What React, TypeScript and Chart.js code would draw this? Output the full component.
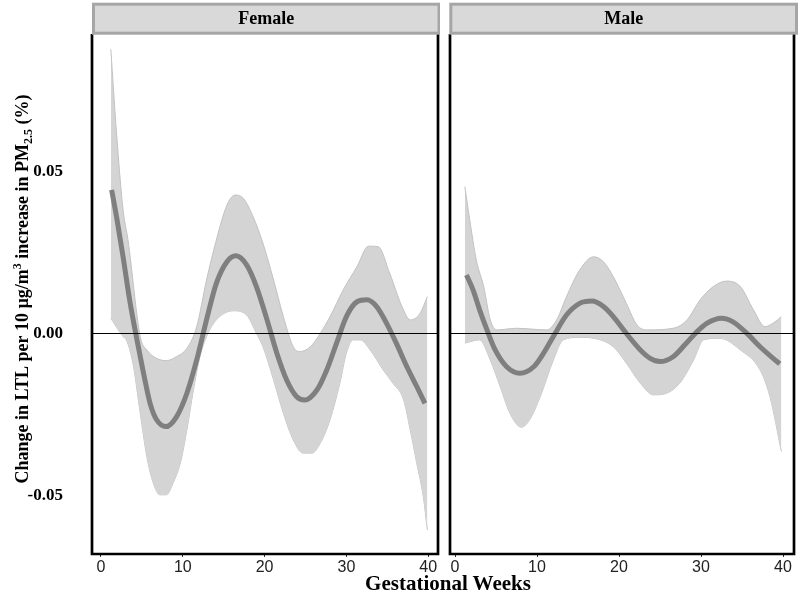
import React, { useEffect, useRef } from "react";
import { Chart, registerables } from "chart.js";
Chart.register(...registerables);

// ---- data ----
const panelTitles = ["Female", "Male"];
const xTickValues = [0, 10, 20, 30, 40];
const yTickValues = [-0.05, 0, 0.05];
const xAxisTitle = "Gestational Weeks";

const femaleFitWeeks = [1.3, 1.9, 2.7, 3.5, 4.4, 5.2, 6.0, 6.8, 7.95, 9.25, 10.5, 11.7, 12.9, 14.1, 15.4, 16.5, 17.8, 19.0, 20.3, 21.5, 22.7, 23.9, 24.9, 26.4, 27.6, 28.8, 30.0, 31.3, 32.5, 33.7, 34.9, 36.1, 37.4, 38.6, 39.6];
const femaleFit = [0.0444, 0.0361, 0.0237, 0.0104, -0.002, -0.0123, -0.0216, -0.0267, -0.0288, -0.0257, -0.0185, -0.0082, 0.0042, 0.0155, 0.0222, 0.024, 0.0212, 0.0145, 0.0042, -0.0061, -0.0144, -0.0195, -0.0206, -0.0175, -0.0113, -0.003, 0.0052, 0.0098, 0.0104, 0.0083, 0.0032, -0.003, -0.0103, -0.0164, -0.0216];

const femaleUpperWeeks = [1.2, 1.9, 2.7, 3.3, 4.8, 5.6, 6.8, 8.0, 9.2, 10.5, 11.7, 12.9, 14.1, 15.4, 16.4, 17.4, 18.6, 19.8, 21.1, 22.3, 23.5, 24.3, 25.6, 26.8, 28.0, 29.6, 31.3, 32.7, 33.9, 35.3, 36.8, 37.8, 39.0, 39.9];
const femaleUpper = [0.0879, 0.062, 0.0382, 0.0289, -0.001, -0.0051, -0.0077, -0.0084, -0.0072, -0.0046, 0.0021, 0.0165, 0.0289, 0.0397, 0.0428, 0.0418, 0.0361, 0.0279, 0.0165, 0.0052, -0.0041, -0.0056, -0.0041, 0, 0.0052, 0.0134, 0.0207, 0.027, 0.0268, 0.0186, 0.0083, 0.0042, 0.0062, 0.0114];

const femaleLowerWeeks = [1.2, 2.7, 3.1, 3.9, 4.8, 5.6, 6.4, 7.2, 8.0, 8.8, 9.7, 10.5, 11.3, 12.1, 12.9, 14.1, 16.2, 17.8, 19.0, 19.8, 21.1, 22.3, 23.5, 24.7, 25.8, 26.8, 28.0, 29.2, 30.0, 30.8, 31.7, 32.9, 34.5, 35.7, 37.0, 37.8, 38.6, 39.4, 39.9];
const femaleLower = [0.0047, -0.001, -0.002, -0.0092, -0.0247, -0.0381, -0.0463, -0.0499, -0.0499, -0.0463, -0.0401, -0.0298, -0.0175, -0.0072, -0.001, 0.0042, 0.007, 0.0057, 0, -0.0041, -0.0144, -0.0247, -0.0329, -0.037, -0.037, -0.034, -0.0267, -0.0154, -0.0061, -0.002, -0.002, -0.0051, -0.0113, -0.0154, -0.0206, -0.0298, -0.0401, -0.0505, -0.0608];

const maleFitWeeks = [1.4, 2.2, 3.0, 3.9, 4.9, 6.3, 7.9, 9.6, 10.8, 12.2, 13.6, 15.2, 16.7, 18.1, 19.3, 20.9, 22.6, 23.8, 25.0, 26.6, 28.0, 29.3, 30.7, 32.5, 33.9, 35.6, 37.2, 38.8, 39.6];
const maleFit = [0.0181, 0.0135, 0.0073, 0.0011, -0.0051, -0.0103, -0.0123, -0.0103, -0.0061, 0, 0.0057, 0.0093, 0.01, 0.0083, 0.0052, 0, -0.0051, -0.0077, -0.0087, -0.0072, -0.0036, 0, 0.0031, 0.0047, 0.0036, 0, -0.0041, -0.0077, -0.0094];

const maleUpperWeeks = [1.2, 1.8, 2.6, 3.5, 4.3, 5.1, 7.5, 11.2, 12.4, 13.6, 15.2, 16.9, 18.1, 19.3, 20.9, 22.2, 23.4, 26.6, 28.3, 29.9, 31.5, 33.1, 34.8, 36.4, 37.8, 38.8, 39.8];
const maleUpper = [0.0454, 0.0351, 0.0227, 0.0145, 0.0042, 0.0011, 0.0016, 0.0011, 0.0042, 0.0114, 0.0196, 0.0237, 0.0222, 0.0176, 0.0093, 0.0026, 0.0011, 0.0016, 0.0042, 0.0104, 0.0145, 0.0162, 0.0145, 0.0073, 0.0021, 0.0032, 0.0052];

const maleLowerWeeks = [1.2, 3.0, 4.3, 5.5, 6.7, 8.1, 9.1, 10.4, 12.0, 13.2, 15.2, 16.9, 19.3, 20.9, 22.6, 24.2, 25.8, 27.4, 29.1, 30.3, 32.3, 34.8, 37.2, 38.4, 39.8];
const maleLower = [-0.003, -0.002, -0.0082, -0.0164, -0.0247, -0.029, -0.0267, -0.0195, -0.0082, -0.002, -0.0012, -0.0015, -0.0041, -0.0092, -0.0154, -0.019, -0.0185, -0.0154, -0.0082, -0.002, -0.0015, -0.0051, -0.0113, -0.0195, -0.0365];

// ---- styling ----
const SERIF = '"Liberation Serif", "Times New Roman", serif';
const SANS = '"Liberation Sans", Arial, sans-serif';
const Y_MIN = -0.0682;
const Y_MAX = 0.0926;

const pts = (xs: number[], ys: number[]) => xs.map((x, i) => ({ x, y: ys[i] }));

function panelPlugin(opts: any) {
  return {
    id: "panelDecor" + opts.title,
    afterDatasetsDraw(chart: any) {
      const { ctx, chartArea, scales } = chart;
      const y0 = Math.round(scales.y.getPixelForValue(0)) + 0.5;
      ctx.save();
      ctx.strokeStyle = "#000";
      ctx.lineWidth = 1;
      ctx.beginPath();
      ctx.moveTo(chartArea.left, y0);
      ctx.lineTo(chartArea.right, y0);
      ctx.stroke();
      ctx.restore();
    },
    afterDraw(chart: any) {
      const { ctx, chartArea } = chart;
      ctx.save();
      // panel border (left, bottom, right)
      ctx.strokeStyle = "#000";
      ctx.lineWidth = 2.7;
      ctx.beginPath();
      ctx.moveTo(chartArea.left, chartArea.top);
      ctx.lineTo(chartArea.left, chartArea.bottom);
      ctx.lineTo(chartArea.right, chartArea.bottom);
      ctx.lineTo(chartArea.right, chartArea.top);
      ctx.stroke();
      // strip
      const sx1 = opts.stripX1, sx2 = opts.stripX2, sy1 = 4.2, sy2 = 33.2;
      ctx.fillStyle = "#d9d9d9";
      ctx.fillRect(sx1, sy1, sx2 - sx1, sy2 - sy1);
      ctx.strokeStyle = "#a6a6a6";
      ctx.lineWidth = 3;
      ctx.strokeRect(sx1, sy1, sx2 - sx1, sy2 - sy1);
      ctx.fillStyle = "#000";
      ctx.font = `bold 18px ${SERIF}`;
      ctx.textAlign = "center";
      ctx.textBaseline = "middle";
      ctx.fillText(opts.title, (sx1 + sx2) / 2, (sy1 + sy2) / 2 + 1);

      if (opts.yTitle) {
        const big = `bold 18px ${SERIF}`;
        const small = `bold 12px ${SERIF}`;
        const parts = [
          { t: "Change in LTL per 10 \u00B5g/m", f: big, dy: 0 },
          { t: "3", f: small, dy: -7 },
          { t: " increase in PM", f: big, dy: 0 },
          { t: "2.5", f: small, dy: 4 },
          { t: " (%)", f: big, dy: 0 },
        ];
        let total = 0;
        const widths = parts.map((p) => {
          ctx.font = p.f;
          const w = ctx.measureText(p.t).width;
          total += w;
          return w;
        });
        ctx.translate(27.5, 289);
        ctx.rotate(-Math.PI / 2);
        ctx.textAlign = "left";
        ctx.textBaseline = "alphabetic";
        let x = -total / 2;
        parts.forEach((p, i) => {
          ctx.font = p.f;
          ctx.fillText(p.t, x, p.dy);
          x += widths[i];
        });
      }
      ctx.restore();
    },
  };
}

function makeConfig(opts: any) {
  const lineBase = { pointRadius: 0, cubicInterpolationMode: "monotone" as const };
  return {
    type: "line" as const,
    data: {
      datasets: [
        { ...lineBase, data: pts(opts.fitX, opts.fitY), borderColor: "#7f7f7f", borderWidth: 5, fill: false },
        { ...lineBase, data: pts(opts.upX, opts.upY), borderColor: "#c2c2c2", borderWidth: 1, backgroundColor: "#d4d4d4", fill: "+1" },
        { ...lineBase, data: pts(opts.loX, opts.loY), borderColor: "#c2c2c2", borderWidth: 1, fill: false },
      ],
    },
    options: {
      animation: false as const,
      responsive: false,
      events: [],
      layout: { padding: { top: 34, right: opts.padRight, left: 0, bottom: 0 } },
      plugins: { legend: { display: false }, tooltip: { enabled: false } },
      scales: {
        x: {
          type: "linear" as const,
          min: opts.xMin,
          max: opts.xMax,
          afterBuildTicks: (s: any) => {
            s.ticks = xTickValues.map((v) => ({ value: v }));
          },
          afterFit: (s: any) => {
            s.height = 46;
          },
          grid: { drawOnChartArea: false, tickLength: 3, color: "#333", tickColor: "#333" },
          border: { display: false },
          ticks: { font: { family: SANS, size: 16 }, color: "#222", padding: 1, maxRotation: 0, autoSkip: false },
        },
        y: {
          type: "linear" as const,
          min: Y_MIN,
          max: Y_MAX,
          afterBuildTicks: (s: any) => {
            s.ticks = yTickValues.map((v) => ({ value: v }));
          },
          afterFit: (s: any) => {
            s.width = opts.yWidth;
          },
          grid: { display: false },
          border: { display: false },
          ticks: {
            display: opts.showY,
            callback: (v: any) => Number(v).toFixed(2),
            font: { family: SERIF, size: 17, weight: "bold" as const },
            color: "#000",
            padding: 21,
          },
        },
      },
    },
    plugins: [panelPlugin(opts)],
  };
}

function Panel(props: { opts: any; left: number; width: number }) {
  const ref = useRef<HTMLCanvasElement | null>(null);
  useEffect(() => {
    if (!ref.current) return;
    const chart = new Chart(ref.current, makeConfig(props.opts) as any);
    return () => chart.destroy();
  }, []);
  return (
    <canvas
      ref={ref}
      width={props.width}
      height={600}
      style={{ position: "absolute", left: props.left, top: 0, width: props.width, height: 600 }}
    />
  );
}

export default function App() {
  const femaleOpts = {
    title: panelTitles[0],
    fitX: femaleFitWeeks, fitY: femaleFit,
    upX: femaleUpperWeeks, upY: femaleUpper,
    loX: femaleLowerWeeks, loY: femaleLower,
    xMin: -1.1, xMax: 41.2,
    yWidth: 92, padRight: 2, showY: true, yTitle: true,
    stripX1: 93.5, stripX2: 439,
  };
  const maleOpts = {
    title: panelTitles[1],
    fitX: maleFitWeeks, fitY: maleFit,
    upX: maleUpperWeeks, upY: maleUpper,
    loX: maleLowerWeeks, loY: maleLower,
    xMin: -0.61, xMax: 41.34,
    yWidth: 10, padRight: 6, showY: false, yTitle: false,
    stripX1: 10.8, stripX2: 356.5,
  };
  return (
    <div style={{ position: "absolute", left: 0, top: 0, width: 800, height: 600, background: "#fff", overflow: "hidden" }}>
      <Panel opts={femaleOpts} left={0} width={440} />
      <Panel opts={maleOpts} left={440} width={360} />
      <div
        style={{
          position: "absolute",
          left: 298,
          width: 300,
          top: 571,
          textAlign: "center",
          fontFamily: SERIF,
          fontWeight: "bold",
          fontSize: 21,
          lineHeight: "24px",
          color: "#000",
        }}
      >
        {xAxisTitle}
      </div>
    </div>
  );
}
